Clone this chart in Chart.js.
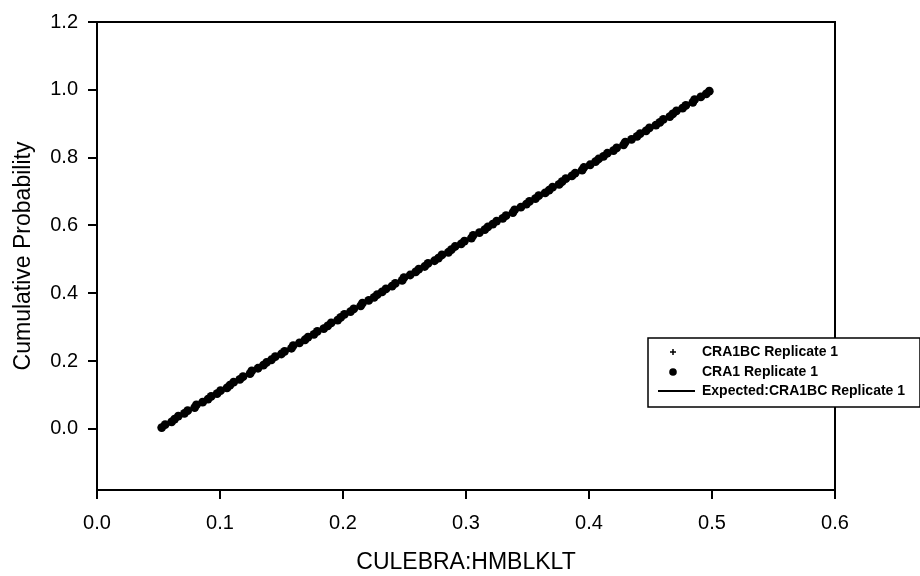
<!DOCTYPE html>
<html>
<head>
<meta charset="utf-8">
<script src="https://cdn.jsdelivr.net/npm/chart.js@4.4.0/dist/chart.umd.min.js"></script>
<style>
  html, body { margin: 0; padding: 0; background: #fff; }
  #wrap { width: 920px; height: 576px; }
</style>
</head>
<body>
<div id="wrap"><canvas id="cdfChart" width="920" height="576"></canvas></div>
<script>
// CRA1 Replicate 1: cumulative probability steps and CULEBRA:HMBLKLT values
const cra1Prob = [
  0.004, 0.013, 0.021, 0.029, 0.038, 0.046, 0.054, 0.063, 0.071, 0.079, 0.088, 0.096,
  0.104, 0.113, 0.121, 0.129, 0.138, 0.146, 0.154, 0.163, 0.171, 0.179, 0.188, 0.196,
  0.204, 0.213, 0.221, 0.229, 0.238, 0.246, 0.254, 0.263, 0.271, 0.279, 0.288, 0.296,
  0.304, 0.313, 0.321, 0.329, 0.338, 0.346, 0.354, 0.363, 0.371, 0.379, 0.388, 0.396,
  0.404, 0.413, 0.421, 0.429, 0.438, 0.446, 0.454, 0.463, 0.471, 0.479, 0.488, 0.496,
  0.504, 0.513, 0.521, 0.529, 0.538, 0.546, 0.554, 0.563, 0.571, 0.579, 0.588, 0.596,
  0.604, 0.613, 0.621, 0.629, 0.638, 0.646, 0.654, 0.663, 0.671, 0.679, 0.688, 0.696,
  0.704, 0.713, 0.721, 0.729, 0.738, 0.746, 0.754, 0.763, 0.771, 0.779, 0.788, 0.796,
  0.804, 0.813, 0.821, 0.829, 0.838, 0.846, 0.854, 0.863, 0.871, 0.879, 0.888, 0.896,
  0.904, 0.913, 0.921, 0.929, 0.938, 0.946, 0.954, 0.963, 0.971, 0.979, 0.988, 0.996
];
const cra1X = [
  0.0526, 0.0554, 0.0607, 0.0631, 0.0661, 0.0711, 0.0737, 0.0794, 0.0808, 0.0859, 0.0903, 0.0928,
  0.0976, 0.1004, 0.1057, 0.1081, 0.1111, 0.1161, 0.1187, 0.1244, 0.1258, 0.1309, 0.1353, 0.1378,
  0.1418, 0.1449, 0.1499, 0.1525, 0.1581, 0.1595, 0.1646, 0.1691, 0.1716, 0.1764, 0.1791, 0.1844,
  0.1876, 0.1904, 0.1957, 0.1981, 0.2011, 0.2061, 0.2087, 0.2144, 0.2158, 0.2209, 0.2253, 0.2278,
  0.2318, 0.2349, 0.2399, 0.2425, 0.2481, 0.2495, 0.2546, 0.2591, 0.2616, 0.2664, 0.2691, 0.2744,
  0.2776, 0.2804, 0.2857, 0.2881, 0.2911, 0.2961, 0.2987, 0.3044, 0.3058, 0.3109, 0.3153, 0.3178,
  0.3218, 0.3249, 0.3299, 0.3325, 0.3381, 0.3395, 0.3446, 0.3491, 0.3516, 0.3564, 0.3591, 0.3644,
  0.3676, 0.3704, 0.3757, 0.3781, 0.3811, 0.3861, 0.3887, 0.3944, 0.3958, 0.4009, 0.4053, 0.4078,
  0.4118, 0.4149, 0.4199, 0.4225, 0.4281, 0.4295, 0.4346, 0.4391, 0.4416, 0.4464, 0.4491, 0.4544,
  0.4576, 0.4604, 0.4657, 0.4681, 0.4711, 0.4761, 0.4787, 0.4844, 0.4858, 0.4909, 0.4953, 0.4978
];

// CRA1BC Replicate 1 (hidden under the dots)
const bcProb = [
  0.006, 0.019, 0.031, 0.044, 0.056, 0.069, 0.081, 0.094, 0.106, 0.119,
  0.131, 0.144, 0.156, 0.169, 0.181, 0.194, 0.206, 0.219, 0.231, 0.244,
  0.256, 0.269, 0.281, 0.294, 0.306, 0.319, 0.331, 0.344, 0.356, 0.369,
  0.381, 0.394, 0.406, 0.419, 0.431, 0.444, 0.456, 0.469, 0.481, 0.494,
  0.506, 0.519, 0.531, 0.544, 0.556, 0.569, 0.581, 0.594, 0.606, 0.619,
  0.631, 0.644, 0.656, 0.669, 0.681, 0.694, 0.706, 0.719, 0.731, 0.744,
  0.756, 0.769, 0.781, 0.794, 0.806, 0.819, 0.831, 0.844, 0.856, 0.869,
  0.881, 0.894, 0.906, 0.919, 0.931, 0.944, 0.956, 0.969, 0.981, 0.994
];
const cra1bcX = [
  0.0525, 0.0589, 0.0637, 0.0701, 0.0749, 0.0814, 0.0861, 0.0926, 0.0974, 0.1039,
  0.1086, 0.1151, 0.1205, 0.1257, 0.1318, 0.1369, 0.1431, 0.1482, 0.1544, 0.1595,
  0.1656, 0.1707, 0.1769, 0.1819, 0.1881, 0.1932, 0.1994, 0.2044, 0.2106, 0.2157,
  0.2219, 0.2269, 0.2331, 0.2382, 0.2444, 0.2494, 0.2556, 0.2607, 0.2669, 0.2719,
  0.2781, 0.2832, 0.2894, 0.2944, 0.3006, 0.3057, 0.3119, 0.3169, 0.3231, 0.3282,
  0.3344, 0.3394, 0.3456, 0.3507, 0.3569, 0.3619, 0.3681, 0.3732, 0.3794, 0.3844,
  0.3906, 0.3957, 0.4019, 0.4069, 0.4131, 0.4182, 0.4244, 0.4294, 0.4356, 0.4407,
  0.4469, 0.4519, 0.4581, 0.4632, 0.4694, 0.4744, 0.4806, 0.4857, 0.4919, 0.4970
];

// expected line for CRA1BC Replicate 1
const expectedX = [0.05, 0.5];
const expectedY = [0.0, 1.0];

const xTicks = [0.0, 0.1, 0.2, 0.3, 0.4, 0.5, 0.6];
const yTicks = [0.0, 0.2, 0.4, 0.6, 0.8, 1.0, 1.2];

const toPoints = (xs, ys) => xs.map((x, i) => ({ x: x, y: ys[i] }));

const FONT = '"Liberation Sans", Arial, sans-serif';

// box around the plot area + legend sitting over the right border
const boxAndLegend = {
  id: 'boxAndLegend',
  afterDraw(chart) {
    const { ctx, chartArea } = chart;
    ctx.save();
    ctx.strokeStyle = '#000';
    ctx.lineWidth = 2;
    ctx.strokeRect(chartArea.left, chartArea.top, chartArea.right - chartArea.left, chartArea.bottom - chartArea.top);

    const lx = 648, ly = 338, lw = 272, lh = 69;
    ctx.fillStyle = '#fff';
    ctx.fillRect(lx, ly, lw, lh);
    ctx.lineWidth = 1.5;
    ctx.strokeRect(lx, ly, lw, lh);

    const rows = [352, 372, 391];
    const sx = 673;
    ctx.fillStyle = '#000';
    ctx.strokeStyle = '#000';
    // cross marker
    ctx.lineWidth = 1.5;
    ctx.beginPath();
    ctx.moveTo(sx - 3, rows[0]); ctx.lineTo(sx + 3, rows[0]);
    ctx.moveTo(sx, rows[0] - 3); ctx.lineTo(sx, rows[0] + 3);
    ctx.stroke();
    // dot marker
    ctx.beginPath();
    ctx.arc(sx, rows[1], 3.8, 0, Math.PI * 2);
    ctx.fill();
    // line
    ctx.lineWidth = 2;
    ctx.beginPath();
    ctx.moveTo(658, rows[2]); ctx.lineTo(695, rows[2]);
    ctx.stroke();

    ctx.font = 'bold 14px ' + FONT;
    ctx.textBaseline = 'middle';
    ctx.textAlign = 'left';
    chart.data.datasets.forEach((ds, i) => {
      ctx.fillText(ds.label, 702, rows[i]);
    });
    ctx.restore();
  }
};

const ctx = document.getElementById('cdfChart').getContext('2d');
const cdfChart = new Chart(ctx, {
  type: 'scatter',
  data: {
    datasets: [
      {
        label: 'CRA1BC Replicate 1',
        data: toPoints(cra1bcX, bcProb),
        pointStyle: 'cross',
        pointRadius: 3,
        borderColor: '#000',
        borderWidth: 1,
        backgroundColor: '#000'
      },
      {
        label: 'CRA1 Replicate 1',
        data: toPoints(cra1X, cra1Prob),
        pointStyle: 'circle',
        pointRadius: 4.4,
        borderWidth: 0,
        backgroundColor: '#000'
      },
      {
        label: 'Expected:CRA1BC Replicate 1',
        data: toPoints(expectedX, expectedY),
        showLine: true,
        pointRadius: 0,
        borderColor: '#000',
        borderWidth: 2,
        backgroundColor: '#000'
      }
    ]
  },
  options: {
    responsive: false,
    animation: false,
    devicePixelRatio: 1,
    layout: { padding: { top: 17, right: 85, left: 0, bottom: 0 } },
    plugins: {
      legend: { display: false },
      tooltip: { enabled: false }
    },
    scales: {
      x: {
        type: 'linear',
        min: 0,
        max: 0.6,
        afterBuildTicks: (axis) => { axis.ticks = xTicks.map(v => ({ value: v })); },
        afterFit: (axis) => { axis.height = 86; },
        border: { display: true, color: '#000', width: 2 },
        grid: { drawOnChartArea: false, drawTicks: true, tickLength: 9, color: '#000', lineWidth: 2 },
        ticks: {
          color: '#000',
          font: { family: FONT, size: 20 },
          padding: 12,
          maxRotation: 0,
          callback: (v) => Number(v).toFixed(1)
        },
        title: {
          display: true,
          text: 'CULEBRA:HMBLKLT',
          color: '#000',
          font: { family: FONT, size: 23 },
          padding: { top: 0, bottom: 0 }
        }
      },
      y: {
        type: 'linear',
        min: -0.18,
        max: 1.2,
        afterBuildTicks: (axis) => { axis.ticks = yTicks.map(v => ({ value: v })); },
        afterFit: (axis) => { axis.width = 97; },
        border: { display: true, color: '#000', width: 2 },
        grid: { drawOnChartArea: false, drawTicks: true, tickLength: 9, color: '#000', lineWidth: 2 },
        ticks: {
          color: '#000',
          font: { family: FONT, size: 20 },
          padding: 10,
          callback: (v) => Number(v).toFixed(1)
        },
        title: {
          display: true,
          text: 'Cumulative Probability',
          color: '#000',
          font: { family: FONT, size: 23 },
          padding: { top: 10, bottom: 0 }
        }
      }
    }
  },
  plugins: [boxAndLegend]
});
</script>
</body>
</html>
